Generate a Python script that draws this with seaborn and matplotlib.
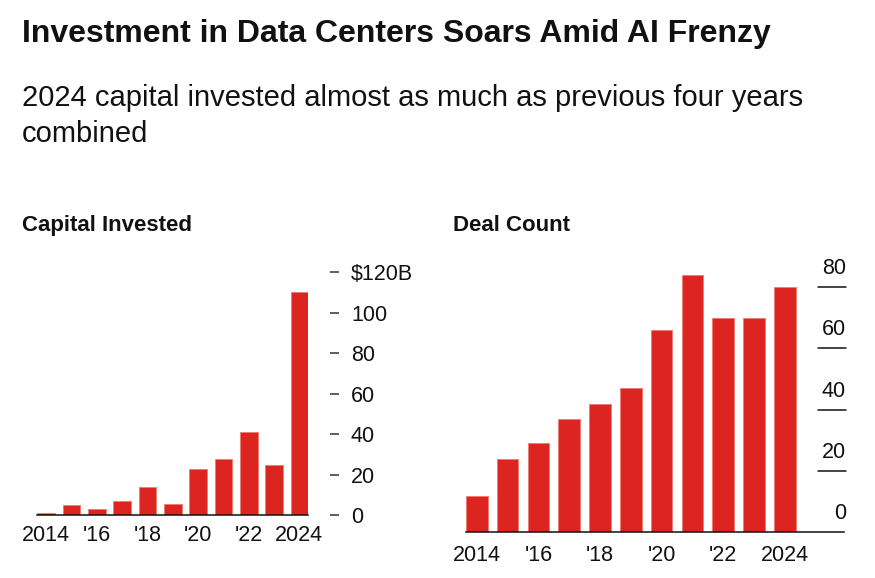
import matplotlib
matplotlib.use("Agg")
import matplotlib.pyplot as plt
import seaborn as sns

# data
years = [2014, 2015, 2016, 2017, 2018, 2019, 2020, 2021, 2022, 2023, 2024]
capital = [1, 5, 3, 7, 14, 5.5, 23, 28, 41, 25, 110]   # $B
deals = [12, 24, 29, 37, 42, 47, 66, 84, 70, 70, 80]

even_years = [2014, 2016, 2018, 2020, 2022, 2024]
year_labels = ["2014", "'16", "'18", "'20", "'22", "2024"]

cap_ticks = [0, 20, 40, 60, 80, 100, 120]
cap_labels = ["0", "20", "40", "60", "80", "100", "$120B"]
deal_ticks = [0, 20, 40, 60, 80]

RED = "#dc2520"
EDGE = "#ef7a72"
INK = "#111111"

sns.set_style("white")
plt.rcParams["font.family"] = ["Liberation Sans", "DejaVu Sans"]

W, H = 875, 578
fig = plt.figure(figsize=(W / 100, H / 100), dpi=100)


def frac(x0, y_top, x1, y_bot):
    # pixel box -> figure fraction rect
    return [x0 / W, 1 - y_bot / H, (x1 - x0) / W, (y_bot - y_top) / H]


# headline + subtitle
fig.text(22 / W, 1 - 42 / H, "Investment in Data Centers Soars Amid AI Frenzy",
         fontsize=23, fontweight="bold", color=INK, va="baseline")
fig.text(22 / W, 1 - 106 / H, "2024 capital invested almost as much as previous four years",
         fontsize=21, color=INK, va="baseline")
fig.text(22 / W, 1 - 142 / H, "combined", fontsize=21, color=INK, va="baseline")

fig.text(22 / W, 1 - 231 / H, "Capital Invested", fontsize=16, fontweight="bold",
         color=INK, va="baseline")
fig.text(453 / W, 1 - 231 / H, "Deal Count", fontsize=16, fontweight="bold",
         color=INK, va="baseline")

TL = 15.5  # tick label size

# ---- left: capital invested ----
ax1 = fig.add_axes(frac(37.3, 272, 308.3, 515.3))
sns.barplot(x=years, y=capital, native_scale=True, width=0.69, color=RED,
            edgecolor=EDGE, linewidth=0.6, saturation=1, ax=ax1)
ax1.set_xlim(2013.65, 2024.35)
ax1.set_ylim(0, 120)
for s in ["top", "left"]:
    ax1.spines[s].set_visible(False)
ax1.spines["right"].set_position(("outward", 15.6))
ax1.spines["right"].set_visible(False)
ax1.spines["bottom"].set_linewidth(1.1)
ax1.spines["bottom"].set_color(INK)
ax1.yaxis.tick_right()
ax1.set_yticks(cap_ticks)
ax1.set_yticklabels(cap_labels)
ax1.tick_params(axis="y", length=6.5, width=1.1, color="#333333", pad=8.6,
                labelsize=TL, labelcolor=INK)
ax1.set_xticks(even_years)
ax1.set_xticklabels(year_labels)
ax1.tick_params(axis="x", length=4.3, width=1.1, color="#333333", pad=3,
                labelsize=TL, labelcolor=INK)
ax1.set_xlabel("")
ax1.set_ylabel("")

# ---- right: deal count ----
# 0..88 so the 2021 bar clears the 80 rule, as in the original
ax2 = fig.add_axes(frac(466, 262.5, 844, 532.3))
sns.barplot(x=years, y=deals, native_scale=True, width=0.7, color=RED,
            edgecolor=EDGE, linewidth=0.6, saturation=1, ax=ax2)
ax2.set_xlim(2013.65, 2025.92)
ax2.set_ylim(0, 88)
for s in ["top", "left", "right"]:
    ax2.spines[s].set_visible(False)
ax2.spines["bottom"].set_linewidth(1.1)
ax2.spines["bottom"].set_color(INK)
ax2.set_yticks([])
ax2.set_xticks(even_years)
ax2.set_xticklabels(year_labels)
ax2.tick_params(axis="x", length=6, width=1.1, color="#333333", pad=3,
                labelsize=TL, labelcolor=INK)
ax2.set_xlabel("")
ax2.set_ylabel("")

ytr = ax2.get_yaxis_transform()
for v in deal_ticks:
    if v > 0:
        ax2.axhline(v, xmin=0.931, xmax=1.005, color=INK, lw=1.1, clip_on=False)
    ax2.annotate(str(v), xy=(1.005, v), xycoords=ytr, xytext=(0, 9.4),
                 textcoords="offset points", ha="right", va="baseline",
                 fontsize=TL, color=INK, annotation_clip=False)

fig.savefig("out.png", dpi=100)
